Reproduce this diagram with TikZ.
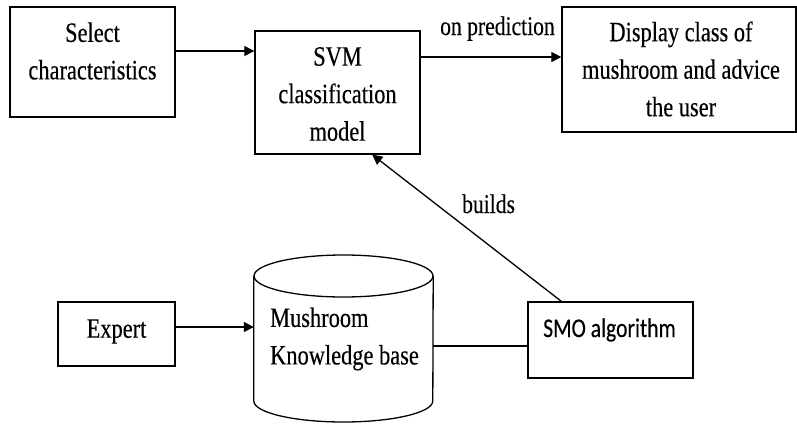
\documentclass[tikz,border=0pt]{standalone}
\usepackage{fontspec}
\setmainfont{Liberation Serif}[FakeStretch=0.8,FakeBold=0.3]
\newfontfamily\smofont{Carlito}[FakeStretch=0.8,FakeBold=0.3]
\usetikzlibrary{arrows.meta,calc}
\tikzset{
  box/.style={draw, line width=1.4pt, rectangle, inner sep=0pt},
  txt/.style={font=\fontsize{28}{37.5}\selectfont, align=center, inner sep=0pt},
  lbl/.style={font=\fontsize{27}{30}\selectfont, inner sep=0pt},
  arr/.style={line width=1.3pt, -{Triangle[length=10pt,width=10pt]}},
  ln/.style={line width=1.3pt},
}
\begin{document}
\begin{tikzpicture}[x=1pt,y=-1pt]
\useasboundingbox (0,0) rectangle (797,423);
% boxes
\node[box, minimum width=165pt, minimum height=110pt] (sel) at (92.5,62) {};
\node[box, minimum width=165pt, minimum height=123pt] (svm) at (337.5,92.5) {};
\node[box, minimum width=234pt, minimum height=125pt] (disp) at (679,69.5) {};
\node[box, minimum width=117pt, minimum height=64pt] (exp) at (116.5,334) {};
\node[box, minimum width=165pt, minimum height=76pt] (smo) at (610.5,340) {};
% cylinder
\node[inner sep=0pt, minimum width=179pt, minimum height=167pt] (kb) at (343.5,338.5) {};
\draw[ln] (343.5,276) ellipse [x radius=89.5, y radius=21];
\draw[ln] (kb.west |- 0,276) -- (kb.west |- 0,401)
  arc[start angle=180, end angle=360, x radius=89.5, y radius=-21]
  -- (kb.east |- 0,276);
% texts
\node[txt] (tsel) at (92.5,51) {Select\\characteristics};
\node[txt] (tsvm) at (337.5,94) {SVM\\classification\\model};
\node[txt] (tdisp) at (681,69) {Display class of\\mushroom and advice\\the user};
\node[txt] (texp) at (116.5,331.5) {Expert};
\node[txt, align=left, anchor=west] (tkb) at (270,339) {Mushroom\\Knowledge base};
\node[inner sep=0pt, anchor=base west, font=\smofont\fontsize{27}{30}\selectfont] (tsmo) at (543,337) {SMO algorithm};
% connectors
\draw[arr] (sel.east |- 0,51) -- (svm.west |- 0,51);
\draw[arr] (svm.east |- 0,57) -- (disp.west |- 0,57);
\node[lbl, anchor=base west] (lpred) at (440,35) {on prediction};
\draw[arr] ([xshift=34pt]smo.north west) -- ([xshift=118pt]svm.south west);
\node[lbl, anchor=base west] (lbuild) at (462,213) {builds};
\draw[arr] (exp.east |- 0,327) -- (kb.west |- 0,327);
\draw[ln] (kb.east |- 0,346) -- (smo.west |- 0,346);
\end{tikzpicture}
\end{document}
